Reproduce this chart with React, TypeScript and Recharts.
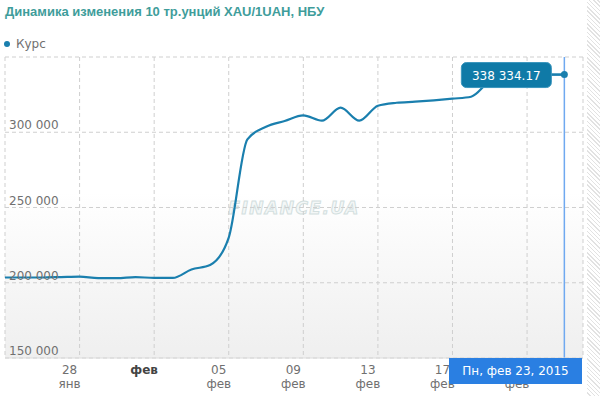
import React from 'react';
import { LineChart, Line, XAxis, YAxis, CartesianGrid, ReferenceLine, ReferenceDot } from 'recharts';

// курс 10 тр.унций XAU за 1 UAH, ежедневно с 24 янв по 23 фев 2015
const dates = [
    '24.01', '25.01', '26.01', '27.01', '28.01', '29.01', '30.01', '31.01',
    '01.02', '02.02', '03.02', '04.02', '05.02', '06.02', '07.02', '08.02',
    '09.02', '10.02', '11.02', '12.02', '13.02', '14.02', '15.02', '16.02',
    '17.02', '18.02', '19.02', '20.02', '21.02', '22.02', '23.02',
];
const rates = [
    203500, 203500, 203500, 203800, 204100, 203100, 203100, 203800,
    203200, 203200, 208800, 211800, 230000, 295300, 303700, 307500,
    311200, 307700, 316300, 307700, 317600, 319600, 320300, 321200,
    322300, 323600, 334000, 338334.17, 338334.17, 338334.17, 338334.17,
];

const xTicks = [0, 4, 8, 12, 16, 20, 24, 28];
const xTop = ['', '28', 'фев', '05', '09', '13', '17', '21'];
const xBottom = ['', 'янв', '', 'фев', 'фев', 'фев', 'фев', 'фев'];
const yTicks = [150000, 200000, 250000, 300000, 350000];

const lineColor = '#1a7fae';
const font = '"DejaVu Sans", Verdana, sans-serif';

const chartData = dates.map((d, i) => ({ d: i, date: d, value: rates[i] }));
const last = chartData[chartData.length - 1];

const fmt = (v: number) => {
    const [int, dec] = v.toFixed(2).split('.');
    return int.replace(/\B(?=(\d{3})+(?!\d))/g, ' ') + '.' + dec;
};

// подписи дат сдвинуты влево от линий сетки, как в оригинале
const XTick = (props: any) => {
    const { x, y, payload } = props;
    const i = xTicks.indexOf(payload.value);
    const bold = xTop[i] === 'фев';
    const lx = x - 10;
    return (
        <g>
            <text x={lx} y={y + 8} textAnchor="middle" fontFamily={font} fontSize={12} fill={bold ? '#444' : '#707070'} fontWeight={bold ? 'bold' : 'normal'}>{xTop[i]}</text>
            <text x={lx} y={y + 22} textAnchor="middle" fontFamily={font} fontSize={12} fill="#707070">{xBottom[i]}</text>
        </g>
    );
};

const YTick = (props: any) => {
    const { y, payload } = props;
    if (payload.value === 350000) return <g />;
    return (
        <text x={9} y={y - 3} textAnchor="start" fontFamily={font} fontSize={12} fill="#707070">
            {String(payload.value).replace(/\B(?=(\d{3})+(?!\d))/g, ' ')}
        </text>
    );
};

const ValueLabel = (props: any) => {
    const { viewBox } = props;
    const cx = viewBox.x + viewBox.width / 2;
    const cy = viewBox.y + viewBox.height / 2;
    return (
        <g>
            <line x1={cx - 13} x2={cx} y1={cy} y2={cy} stroke={lineColor} strokeWidth={2} />
            <rect x={cx - 103} y={cy - 12} width={90} height={25} rx={5} fill="#0f7aa7" stroke="#3a95bd" />
            <text x={cx - 58} y={cy + 5} textAnchor="middle" fontFamily={font} fontSize={12} fill="#fff">{fmt(last.value)}</text>
        </g>
    );
};

export default function App() {
    return (
        <div style={{ position: 'absolute', left: 0, top: 0, width: 600, height: 396, background: '#fff', overflow: 'hidden' }}>
            <div style={{ position: 'absolute', left: 587, top: 0, width: 13, height: 396, background: 'repeating-linear-gradient(45deg, #fff 0px, #fff 2px, #e2e2e2 2px, #e2e2e2 3px)' }} />
            {/* фон области графика */}
            <div style={{ position: 'absolute', left: 5, top: 57, width: 578, height: 301, background: 'linear-gradient(#ffffff 0%, #ffffff 45%, #efefef 100%)' }} />
            <div style={{ position: 'absolute', left: 194, top: 198, width: 200, textAlign: 'center', fontFamily: font, fontSize: 17, fontWeight: 'bold', fontStyle: 'italic', letterSpacing: 1.5, color: '#f4f7f7', WebkitTextStroke: '1px #d3dfdf' }}>
                FINANCE.UA
            </div>
            <div style={{ position: 'absolute', left: 5, top: 4, fontFamily: '"Liberation Sans", Arial, sans-serif', fontWeight: 'bold', fontSize: 13, color: '#3f9d9b' }}>
                Динамика изменения 10 тр.унций XAU/1UAH, НБУ
            </div>
            <div style={{ position: 'absolute', left: 4, top: 37, fontFamily: font, fontSize: 12, color: '#707070', display: 'flex', alignItems: 'center' }}>
                <span style={{ display: 'inline-block', width: 6, height: 6, borderRadius: 3, background: lineColor, marginRight: 6 }} />
                Курс
            </div>
            <LineChart width={600} height={396} data={chartData} margin={{ top: 57, left: 5, right: 17, bottom: 0 }} style={{ position: 'absolute', left: 0, top: 0 }}>
                <CartesianGrid stroke="#cfcfcf" strokeDasharray="4 3" />
                <XAxis dataKey="d" type="number" domain={[0, 31]} ticks={xTicks} height={38} tickLine={false} axisLine={{ stroke: '#dcdcdc' }} tick={<XTick />} interval={0} />
                <YAxis type="number" domain={[150000, 350000]} ticks={yTicks} width={60} mirror tickLine={false} axisLine={false} tick={<YTick />} interval={0} />
                <Line type="monotone" dataKey="value" stroke={lineColor} strokeWidth={2.2} dot={false} isAnimationActive={false} />
                <ReferenceLine x={last.d} stroke="#6fa9f0" strokeWidth={1.5} />
                <ReferenceDot x={last.d} y={last.value} r={3.5} fill={lineColor} stroke="none" label={<ValueLabel />} />
            </LineChart>
            {/* подпись даты под курсором */}
            <div style={{ position: 'absolute', left: 449, top: 358, width: 133, height: 26, background: '#2a7fe2', color: '#fff', fontFamily: font, fontSize: 12, lineHeight: '26px', textAlign: 'center' }}>
                Пн, фев 23, 2015
            </div>
        </div>
    );
}
